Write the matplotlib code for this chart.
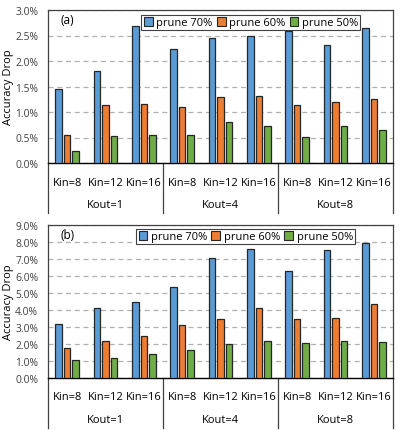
import matplotlib
matplotlib.use("Agg")
import matplotlib.pyplot as plt
from matplotlib.ticker import FuncFormatter, MultipleLocator
from matplotlib.patches import Patch

plt.rcParams['font.family'] = ['Open Sans', 'DejaVu Sans']

kin_labels = ["Kin=8", "Kin=12", "Kin=16"] * 3
kout_labels = ["Kout=1", "Kout=4", "Kout=8"]
series = ["prune 70%", "prune 60%", "prune 50%"]
colors = ["#5B9BD5", "#ED7D31", "#70AD47"]

a_p70 = [1.46, 1.80, 2.68, 2.24, 2.46, 2.49, 2.58, 2.32, 2.655]
a_p60 = [0.54, 1.135, 1.155, 1.10, 1.285, 1.32, 1.135, 1.19, 1.26]
a_p50 = [0.235, 0.53, 0.54, 0.555, 0.80, 0.73, 0.51, 0.72, 0.65]

b_p70 = [3.2, 4.1, 4.5, 5.33, 7.05, 7.6, 6.3, 7.55, 7.97]
b_p60 = [1.75, 2.15, 2.5, 3.1, 3.45, 4.1, 3.45, 3.55, 4.33]
b_p50 = [1.05, 1.2, 1.4, 1.62, 2.0, 2.15, 2.05, 2.15, 2.12]

W, H = 399, 431
fig = plt.figure(figsize=(W / 100, H / 100), dpi=100)

FS = 8.0

def panel(top_px, bot_px, data, ymax, ystep, tag, leg_anchor):
    left = 48 / W
    width = (393 - 48) / W
    ax = fig.add_axes([left, 1 - bot_px / H, width, (bot_px - top_px) / H])
    n = len(data[0])
    offs = [-0.22, 0.0, 0.22]
    for k, vals in enumerate(data):
        xs = [i + 0.5 + offs[k] for i in range(n)]
        ax.bar(xs, vals, width=0.17, color=colors[k], edgecolor='#262626',
               linewidth=0.9, zorder=3, label=series[k])
    ax.set_xlim(0, n)
    ax.set_ylim(0, ymax)
    ax.yaxis.set_major_locator(MultipleLocator(ystep))
    ax.yaxis.set_major_formatter(FuncFormatter(lambda v, p: f"{v:.1f}%"))
    ax.tick_params(axis='y', labelsize=FS - 0.6, length=0, pad=7, colors='#404040')
    ax.set_xticks([])
    ax.grid(axis='y', linestyle=(0, (4, 3)), color='#b0b0b0', linewidth=0.9, zorder=0)
    for s in ['top', 'left', 'right']:
        ax.spines[s].set_color('#404040')
        ax.spines[s].set_linewidth(0.9)
    ax.spines['bottom'].set_color('black')
    ax.spines['bottom'].set_linewidth(1.0)
    ax.set_ylabel("Accuracy Drop", fontsize=FS, labelpad=1)
    ax.text(0.035, 0.935, tag, transform=ax.transAxes, fontsize=FS + 0.5, va='center', ha='left')

    trans = ax.get_xaxis_transform()
    h_ax = (bot_px - top_px)
    lbl_depth = 50
    def fy(px):
        return -px / h_ax
    for i, lab in enumerate(kin_labels):
        ax.text(i + 0.5, fy(19), lab, transform=trans, ha='center', va='center', fontsize=FS)
    for g, lab in enumerate(kout_labels):
        ax.text(g * 3 + 1.5, fy(42), lab, transform=trans, ha='center', va='center', fontsize=FS)
    for xline in [0, 3, 6, 9]:
        ax.plot([xline, xline], [0, fy(lbl_depth)], transform=trans, color='#404040',
                linewidth=0.9, clip_on=False)

    handles = [Patch(facecolor=colors[k], edgecolor='#262626', linewidth=0.8) for k in range(3)]
    leg = ax.legend(handles, series, loc='upper right', bbox_to_anchor=leg_anchor,
                    ncol=3, fontsize=FS, frameon=True, fancybox=False, framealpha=1,
                    edgecolor='#404040', handlelength=0.8, handleheight=0.8,
                    handletextpad=0.3, columnspacing=0.4, borderpad=0.2,
                    borderaxespad=0.0)
    leg.get_frame().set_linewidth(0.8)
    return ax

panel(11, 164, [a_p70, a_p60, a_p50], 3.0, 0.5, "(a)", (0.905, 0.968))
panel(226, 379, [b_p70, b_p60, b_p50], 9.0, 1.0, "(b)", (0.89, 0.975))

fig.savefig("out.png", dpi=100)
